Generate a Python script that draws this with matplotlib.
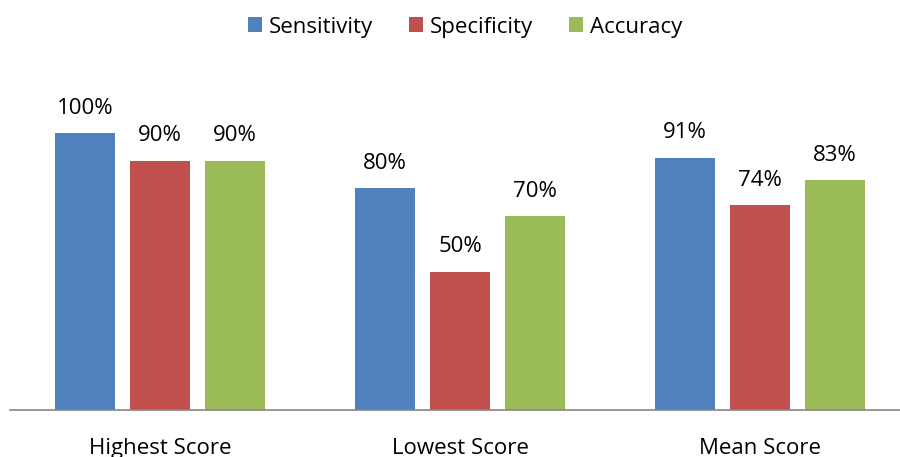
import numpy as np
import matplotlib
matplotlib.use('Agg')
import matplotlib.pyplot as plt
from matplotlib.patches import Patch

# Data
categories = ['Highest Score', 'Lowest Score', 'Mean Score']
series_names = ['Sensitivity', 'Specificity', 'Accuracy']
sensitivity = [100, 80, 91]
specificity = [90, 50, 74]
accuracy = [90, 70, 83]

colors = ['#4F81BD', '#C0504D', '#9BBB59']
plt.rcParams['font.family'] = ['Open Sans', 'DejaVu Sans']
fs = 16

fig = plt.figure(figsize=(9, 4.57), dpi=100)
ax = fig.add_axes([10 / 900, 47 / 457, 900 / 900, 350 / 457])

x = np.arange(len(categories))
width = 0.2
offsets = [-0.25, 0, 0.25]
for vals, off, c in zip([sensitivity, specificity, accuracy], offsets, colors):
    bars = ax.bar(x + off, vals, width=width, color=c, zorder=2)
    for b, v in zip(bars, vals):
        ax.annotate(f'{v}%', (b.get_x() + b.get_width() / 2, v),
                    xytext=(0, 14), textcoords='offset points',
                    ha='center', va='baseline', fontsize=fs)

ax.set_xlim(-0.5, 2.5)
ax.set_ylim(0, 350 / 2.77)
ax.set_xticks(x)
ax.set_xticklabels(categories, fontsize=fs)
ax.tick_params(axis='x', length=0, pad=20)
ax.set_yticks([])
for s in ['top', 'right', 'left']:
    ax.spines[s].set_visible(False)
ax.spines['bottom'].set_color('#868686')
ax.spines['bottom'].set_linewidth(1.2)

handles = [Patch(facecolor=c, label=n) for c, n in zip(colors, series_names)]
fig.legend(handles=handles, loc='center', bbox_to_anchor=(465 / 900, 1 - 27 / 457),
           ncol=3, frameon=False, fontsize=fs, handlelength=0.65, handleheight=0.65,
           handletextpad=0.3, columnspacing=1.6, borderpad=0)

fig.savefig('out.png', dpi=100)
